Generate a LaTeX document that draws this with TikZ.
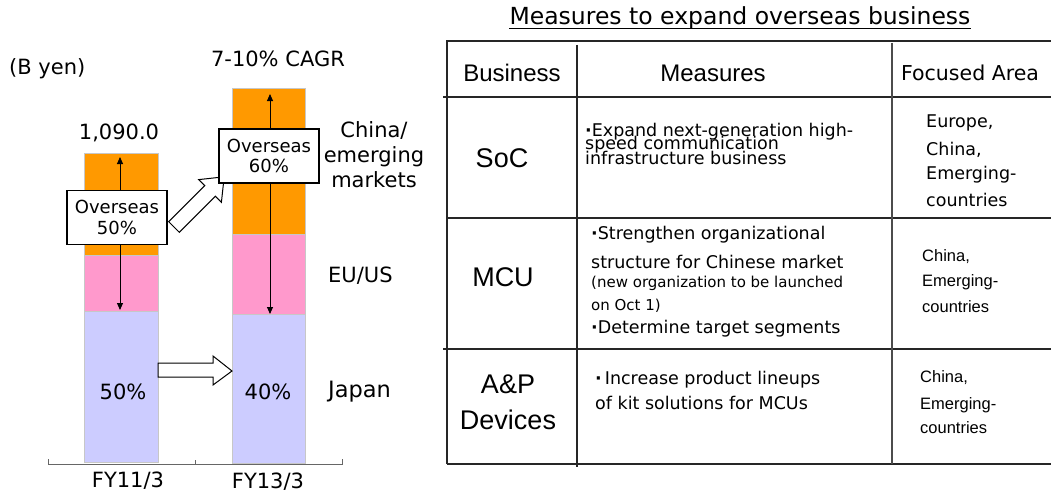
\documentclass[tikz,border=0pt]{standalone}
\usepackage{fontspec}
\setmainfont{DejaVu Sans}
\newfontfamily\arialf{Liberation Sans}
\usetikzlibrary{arrows.meta}
\definecolor{barorange}{HTML}{FF9900}
\definecolor{barpink}{HTML}{FF99CC}
\definecolor{barblue}{HTML}{CCCCFF}
\newcommand{\bul}{\textbf{·}}
\tikzset{
  seg/.style={draw=black!22, line width=0.8pt},
  lbl/.style={inner sep=0pt, font=\fontsize{21}{25}\selectfont},
  ovbox/.style={draw, fill=white, line width=1.1pt, inner sep=0pt, minimum width=100pt, minimum height=54pt, align=center, font=\fontsize{18}{20.5}\selectfont},
  varr/.style={line width=0.9pt, -{Triangle[length=7pt,width=6pt]}},
  blockarr/.style={draw, fill=white, line width=1pt, line join=miter},
  tline/.style={line width=1.2pt, draw=black!85},
  hdr/.style={inner sep=0pt, font=\arialf\fontsize{24}{26}\selectfont},
  rowlbl/.style={inner sep=0pt, align=center, font=\arialf\fontsize{27}{36}\selectfont},
  meas/.style={inner sep=0pt, anchor=west, font=\fontsize{17.5}{18}\selectfont},
  meassm/.style={inner sep=0pt, anchor=west, font=\fontsize{15}{16}\selectfont},
  focd/.style={inner sep=0pt, anchor=west, font=\fontsize{17.5}{18}\selectfont},
  foca/.style={inner sep=0pt, anchor=west, font=\arialf\fontsize{16.5}{17}\selectfont},
}
\begin{document}
\begin{tikzpicture}[x=1pt,y=-1pt]
\useasboundingbox (0,0) rectangle (1051,495);
\fill[white] (0,0) rectangle (1051,495);

% ---------- left: bars ----------
\draw[black!60, line width=0.8pt] (48,459) -- (48,464) -- (342,464) -- (342,459);
\draw[black!60, line width=0.8pt] (195,464) -- (195,460);
\path[seg, fill=barorange] (84,153) rectangle (158,255);
\path[seg, fill=barpink]   (84,255) rectangle (158,311);
\path[seg, fill=barblue]   (84,311) rectangle (158,462);
\path[seg, fill=barorange] (232,88) rectangle (305,234);
\path[seg, fill=barpink]   (232,234) rectangle (305,314);
\path[seg, fill=barblue]   (232,314) rectangle (305,463);

% vertical arrows
\coordinate (lup) at (120,157);
\coordinate (ldn) at (120,310);
\coordinate (rup) at (270,94);
\coordinate (rdn) at (270,314);

% diagonal block arrow (from 50% box to 60% box)
\draw[blockarr] (168.7,221.7) -- (204.8,185.6) -- (198.8,179.6) -- (224.2,176.8)
  -- (221.4,202.2) -- (215.4,196.2) -- (179.3,232.3) -- cycle;
% horizontal block arrow
\draw[blockarr] (158,363) -- (213,363) -- (213,356) -- (232,371) -- (213,385) -- (213,377) -- (158,377) -- cycle;

\node[ovbox] (ov50) at (117,217.5) {Overseas\\50\%};
\node[ovbox] (ov60) at (269,156) {Overseas\\60\%};
\draw[varr] (ov50.north -| lup) -- (lup);
\draw[varr] (ov50.south -| ldn) -- (ldn);
\draw[varr] (ov60.north -| rup) -- (rup);
\draw[varr] (ov60.south -| rdn) -- (rdn);

% left labels
\node[lbl, anchor=west] (byen) at (9,69) {(B yen)};
\node[lbl] (cagr) at (278,59) {7-10\% CAGR};
\node[lbl] (total) at (119,133) {1,090.0};
\node[lbl, align=center] (china) at (374,155) {China/\\emerging\\markets};
\node[lbl, anchor=west] (euus) at (328,276) {EU/US};
\node[lbl, anchor=west, font=\fontsize{22.5}{25}\selectfont] (japan) at (328,392) {Japan};
\node[lbl] (p50) at (123,392) {50\%};
\node[lbl] (p40) at (268,392) {40\%};
\node[lbl] (fy11) at (128,481) {FY11/3};
\node[lbl] (fy13) at (268,482) {FY13/3};

% ---------- right: table ----------
\node[inner sep=0pt, font=\fontsize{23.5}{25}\selectfont] (title) at (740,18) {Measures to expand overseas business};
\draw[line width=1pt] ([yshift=-4pt]title.base west) -- ([yshift=-4pt]title.base east);

\draw[tline] (447,464) -- (447,41) -- (1051,41);
\draw[tline] (443,97) -- (1051,97);
\draw[tline] (447,218) -- (1051,218);
\draw[tline] (443,349) -- (1051,349);
\draw[tline] (447,464) -- (1051,464);
\draw[tline] (577,45) -- (577,467);
\draw[tline, draw=black!70] (892,43) -- (892,464);

\node[hdr] (hbus) at (512,73) {Business};
\node[hdr] (hmea) at (713,73) {Measures};
\node[inner sep=0pt, font=\fontsize{20.5}{22}\selectfont] (hfoc) at (970,73) {Focused Area};

\node[rowlbl] (soc) at (502,158) {SoC};
\node[rowlbl] (mcu) at (503,277) {MCU};
\node[rowlbl] (ap) at (508,402) {A\&P\\Devices};

% SoC measures
\node[meas] (s1) at (585,132) {\bul Expand next-generation high-};
\node[meas] (s2) at (585,145) {speed communication};
\node[meas] (s3) at (585,157.5) {infrastructure business};
% MCU measures
\node[meas] (m1) at (591,235) {\bul Strengthen organizational};
\node[meas] (m2) at (591,262) {structure for Chinese market};
\node[meassm] (m3) at (591,283) {(new organization to be launched};
\node[meassm] (m4) at (591,306) {on Oct 1)};
\node[meas] (m5) at (591,329) {\bul Determine target segments};
% A&P measures
\node[meas] (a1) at (595,380) {\bul\hspace{3pt}Increase product lineups};
\node[meas] (a2) at (595,403) {of kit solutions for MCUs};

% focused areas
\node[focd] (f1) at (926,123) {Europe,};
\node[focd] (f2) at (926,150) {China,};
\node[focd] (f3) at (926,175) {Emerging-};
\node[focd] (f4) at (926,200) {countries};
\node[foca] (g1) at (922,257) {China,};
\node[foca] (g2) at (922,282) {Emerging-};
\node[foca] (g3) at (922,307) {countries};
\node[foca] (k1) at (920,378) {China,};
\node[foca] (k2) at (920,405) {Emerging-};
\node[foca] (k3) at (920,428) {countries};
\end{tikzpicture}
\end{document}
